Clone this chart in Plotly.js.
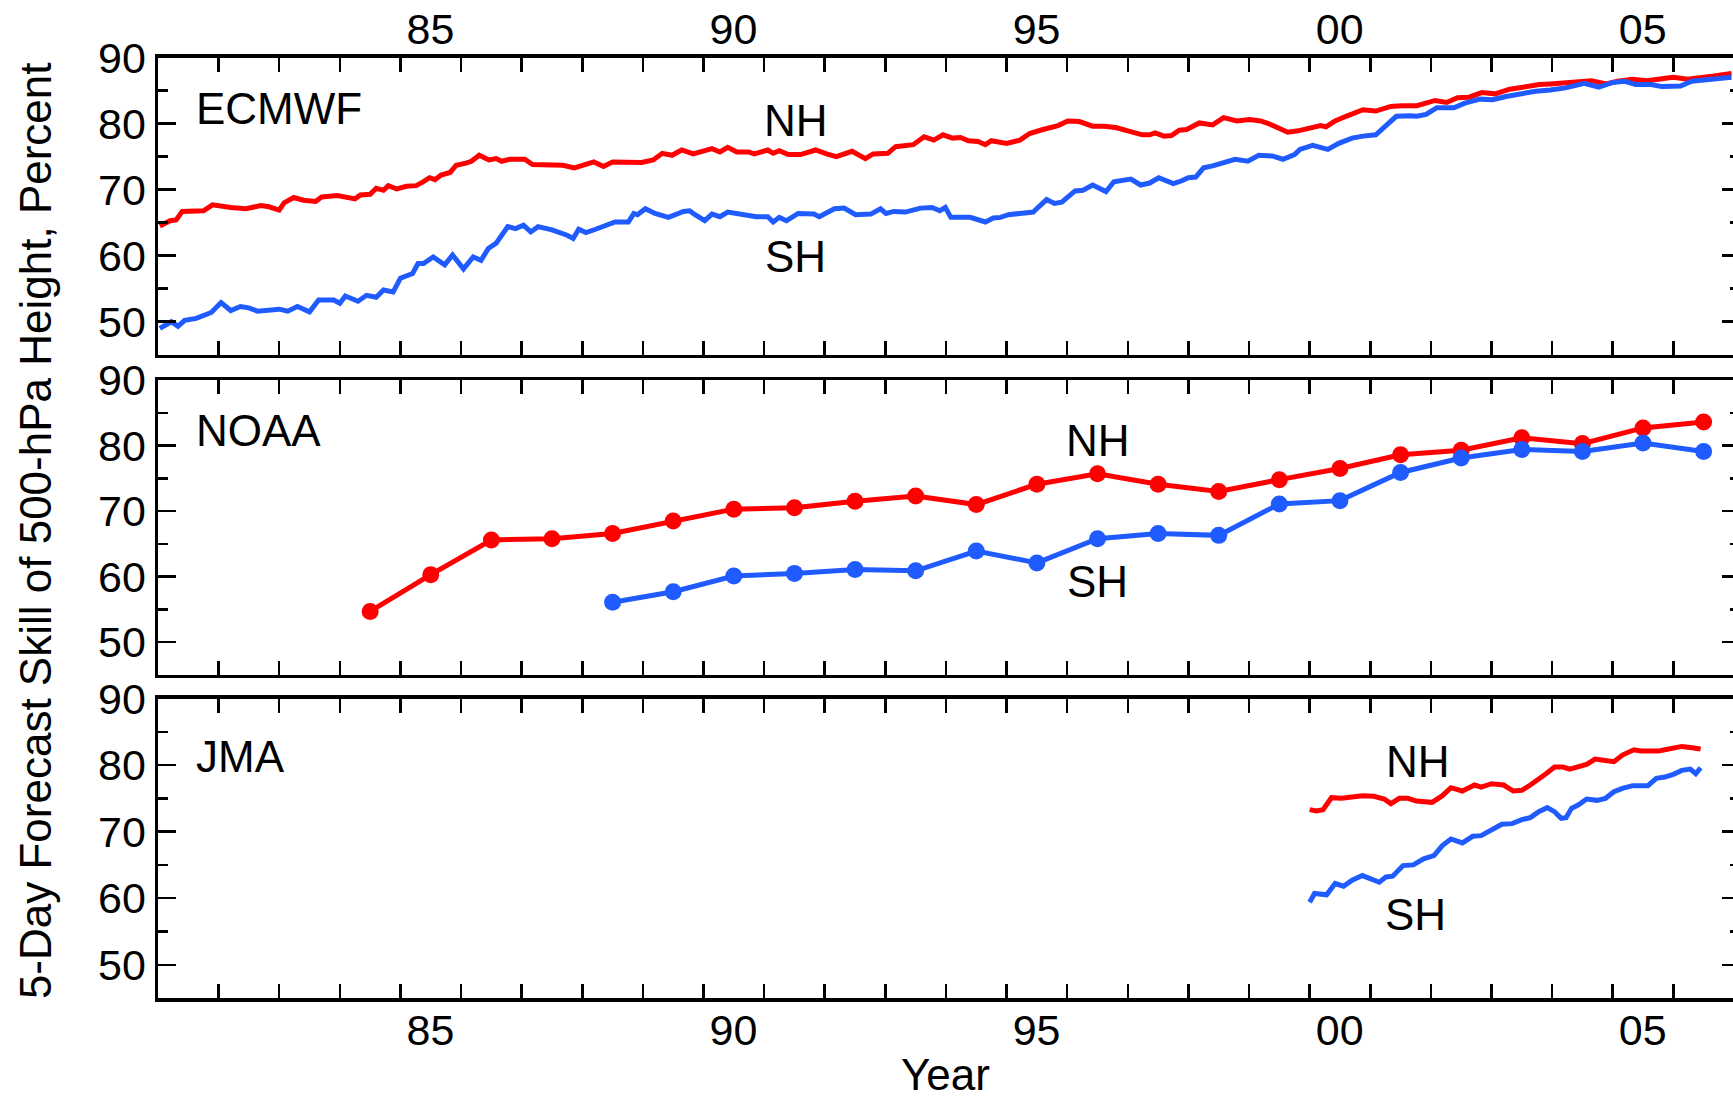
<!DOCTYPE html>
<html>
<head>
<meta charset="utf-8">
<script src="https://cdn.plot.ly/plotly-3.0.1.min.js"></script>
<style>
html, body { margin: 0; padding: 0; overflow: hidden; background: #fff; }
#chart { width: 1740px; height: 1100px; }
</style>
</head>
<body>
<div id="chart"></div>
<script>
// ---------------- DATA ----------------
// ECMWF running skill (time in fractional years)
const ecmwfNHYear = [1981.03,1981.2,1981.3,1981.4,1981.75,1981.9,1982.2,1982.45,1982.7,1982.83,1983.0,1983.08,1983.24,1983.4,1983.6,1983.7,1983.96,1984.25,1984.34,1984.5,1984.6,1984.72,1984.8,1984.94,1985.1,1985.26,1985.38,1985.48,1985.57,1985.67,1985.82,1985.92,1986.08,1986.17,1986.3,1986.46,1986.58,1986.67,1986.8,1987.05,1987.18,1987.43,1987.68,1987.87,1988.06,1988.19,1988.35,1988.5,1988.98,1989.17,1989.32,1989.48,1989.64,1989.83,1990.14,1990.27,1990.4,1990.55,1990.74,1990.84,1991.06,1991.15,1991.25,1991.4,1991.6,1991.72,1991.85,1992.03,1992.19,1992.45,1992.67,1992.8,1993.04,1993.17,1993.46,1993.64,1993.8,1993.95,1994.11,1994.24,1994.37,1994.53,1994.65,1994.75,1995.0,1995.22,1995.38,1995.6,1995.85,1996.01,1996.2,1996.42,1996.61,1996.8,1997.05,1997.24,1997.36,1997.45,1997.6,1997.72,1997.85,1997.97,1998.18,1998.4,1998.58,1998.8,1999.01,1999.19,1999.32,1999.47,1999.64,1999.81,1999.99,2000.18,2000.27,2000.42,2000.6,2000.79,2000.88,2001.09,2001.34,2001.52,2001.77,2002.07,2002.26,2002.44,2002.63,2002.84,2003.06,2003.3,2003.55,2003.79,2003.97,2004.16,2004.4,2004.65,2004.89,2005.08,2005.32,2005.57,2005.81,2006.0,2006.24,2006.43,2006.67,2006.96];
const ecmwfNHSkill = [64.5,65.3,65.4,66.7,66.8,67.7,67.3,67.1,67.6,67.4,66.9,68.0,68.8,68.4,68.2,68.9,69.1,68.6,69.2,69.3,70.2,69.9,70.6,70.1,70.5,70.6,71.2,71.8,71.5,72.2,72.6,73.7,74.0,74.3,75.2,74.5,74.7,74.3,74.6,74.6,73.8,73.8,73.7,73.3,73.8,74.2,73.5,74.2,74.1,74.5,75.5,75.2,76.0,75.4,76.2,75.7,76.4,75.7,75.7,75.4,76.0,75.5,75.9,75.3,75.3,75.7,76.0,75.4,75.0,75.8,74.7,75.4,75.5,76.5,76.8,78.0,77.5,78.3,77.8,77.9,77.4,77.3,76.8,77.4,77.0,77.5,78.5,79.1,79.7,80.4,80.3,79.6,79.6,79.4,78.8,78.3,78.3,78.6,78.1,78.2,79.0,79.1,80.1,79.8,80.9,80.4,80.6,80.4,80.0,79.3,78.7,78.9,79.2,79.7,79.5,80.4,81.1,81.9,82.1,81.9,82.6,82.7,82.7,83.5,83.2,83.9,84.0,84.7,84.5,85.2,85.6,85.9,86.0,86.1,86.2,86.5,86.0,86.4,86.7,86.5,86.8,87.0,86.7,87.0,87.2,87.6];

const ecmwfSHYear = [1981.03,1981.22,1981.33,1981.44,1981.63,1981.88,1982.04,1982.2,1982.36,1982.5,1982.64,1982.83,1983.0,1983.14,1983.3,1983.5,1983.65,1983.9,1984.0,1984.09,1984.3,1984.44,1984.6,1984.72,1984.88,1985.0,1985.2,1985.29,1985.38,1985.54,1985.73,1985.86,1986.04,1986.2,1986.33,1986.45,1986.58,1986.77,1986.9,1987.03,1987.15,1987.27,1987.5,1987.75,1987.85,1987.94,1988.06,1988.22,1988.38,1988.54,1988.76,1988.85,1988.91,1989.04,1989.2,1989.42,1989.67,1989.77,1989.86,1990.02,1990.14,1990.27,1990.4,1990.62,1990.87,1991.06,1991.15,1991.25,1991.37,1991.56,1991.82,1991.91,1992.16,1992.32,1992.51,1992.76,1992.92,1993.01,1993.14,1993.33,1993.58,1993.77,1993.9,1993.99,1994.08,1994.27,1994.4,1994.65,1994.78,1994.9,1995.03,1995.22,1995.44,1995.53,1995.66,1995.79,1995.91,1996.13,1996.26,1996.42,1996.64,1996.77,1997.05,1997.21,1997.36,1997.51,1997.6,1997.75,1997.88,1998.0,1998.12,1998.25,1998.4,1998.58,1998.77,1998.98,1999.16,1999.38,1999.56,1999.75,1999.84,2000.05,2000.3,2000.48,2000.7,2000.88,2001.09,2001.25,2001.43,2001.65,2001.77,2001.92,2002.1,2002.38,2002.56,2002.81,2003.02,2003.24,2003.42,2003.73,2003.97,2004.22,2004.53,2004.77,2004.99,2005.2,2005.38,2005.63,2005.81,2006.12,2006.3,2006.55,2006.79,2006.96];
const ecmwfSHSkill = [49.0,50.0,49.3,50.2,50.5,51.4,52.9,51.7,52.3,52.1,51.6,51.7,51.9,51.6,52.3,51.5,53.3,53.3,52.8,53.9,53.1,54.0,53.7,54.8,54.5,56.6,57.3,58.8,58.8,59.8,58.6,60.1,58.0,59.8,59.3,61.1,61.9,64.4,64.1,64.6,63.6,64.4,63.9,63.1,62.6,64.0,63.5,64.0,64.6,65.1,65.1,66.4,66.2,67.1,66.4,65.8,66.7,66.8,66.2,65.3,66.3,65.9,66.6,66.2,65.9,65.9,65.1,65.8,65.3,66.4,66.3,65.9,67.1,67.2,66.2,66.3,67.1,66.4,66.7,66.6,67.2,67.3,66.8,67.3,65.8,65.8,65.8,65.1,65.7,65.8,66.2,66.4,66.6,67.4,68.5,67.9,68.1,69.8,69.9,70.7,69.7,71.2,71.6,70.7,71.0,71.8,71.5,70.9,71.3,71.8,71.9,73.3,73.6,74.1,74.6,74.3,75.2,75.1,74.6,75.3,76.1,76.7,76.1,77.0,77.8,78.1,78.3,79.6,81.1,81.2,81.1,81.4,82.4,82.4,83.1,83.7,83.6,84.1,84.4,84.9,85.1,85.4,86.1,85.5,86.2,86.4,85.9,85.9,85.6,85.7,86.4,86.6,86.7,87.0];

// NOAA annual means (plotted at mid-year)
const noaaNHYear  = [1984,1985,1986,1987,1988,1989,1990,1991,1992,1993,1994,1995,1996,1997,1998,1999,2000,2001,2002,2003,2004,2005,2006];
const noaaNHSkill = [54.7,60.3,65.6,65.8,66.6,68.5,70.3,70.5,71.5,72.3,71.0,74.1,75.7,74.1,73.0,74.8,76.5,78.6,79.3,81.2,80.3,82.7,83.6];
const noaaSHYear  = [1988,1989,1990,1991,1992,1993,1994,1995,1996,1997,1998,1999,2000,2001,2002,2003,2004,2005,2006];
const noaaSHSkill = [56.1,57.7,60.1,60.5,61.1,60.9,63.9,62.1,65.8,66.6,66.3,71.1,71.6,75.9,78.1,79.4,79.1,80.4,79.1];

// JMA running skill
const jmaNHYear  = [2000.0,2000.11,2000.22,2000.36,2000.53,2000.67,2000.87,2001.06,2001.23,2001.34,2001.48,2001.62,2001.76,2002.02,2002.19,2002.33,2002.52,2002.72,2002.83,2003.0,2003.2,2003.36,2003.5,2003.64,2003.78,2003.9,2004.04,2004.18,2004.29,2004.46,2004.57,2004.71,2004.88,2005.02,2005.16,2005.35,2005.47,2005.61,2005.75,2005.86,2006.0,2006.14,2006.31,2006.45];
const jmaNHSkill = [73.3,73.1,73.3,75.1,75.0,75.1,75.4,75.3,74.9,74.2,75.0,75.0,74.6,74.4,75.4,76.6,76.1,77.0,76.7,77.2,77.0,76.1,76.2,77.0,77.8,78.7,79.7,79.7,79.4,79.9,80.1,80.9,80.6,80.5,81.5,82.3,82.1,82.1,82.1,82.3,82.6,82.8,82.6,82.4];
const jmaSHYear  = [2000.0,2000.08,2000.28,2000.42,2000.56,2000.7,2000.87,2001.01,2001.15,2001.26,2001.37,2001.54,2001.71,2001.88,2002.05,2002.19,2002.33,2002.52,2002.69,2002.83,2003.0,2003.17,2003.34,2003.5,2003.64,2003.78,2003.92,2004.04,2004.15,2004.23,2004.32,2004.43,2004.57,2004.74,2004.88,2005.02,2005.16,2005.33,2005.58,2005.72,2005.86,2006.0,2006.14,2006.28,2006.37,2006.45];
const jmaSHSkill = [59.4,60.7,60.5,62.2,61.8,62.7,63.4,62.8,62.4,63.2,63.3,64.9,65.0,65.9,66.4,67.9,68.9,68.3,69.3,69.4,70.2,71.1,71.2,71.8,72.1,73.0,73.6,73.0,72.0,72.1,73.5,74.0,74.9,74.7,75.0,76.0,76.5,76.9,76.9,78.0,78.2,78.6,79.2,79.4,78.7,79.6];

// Axis ticks
const yearTicks = [];
for (let y = 1981; y <= 2007; y++) yearTicks.push(y);
const yearTickText = yearTicks.map(y => (y % 5 === 0) ? String(y % 100).padStart(2, '0') : '');
const skillTicks = [50, 60, 70, 80, 90];
const skillMinorTicks = [55, 65, 75, 85];

const panelNames = ['ECMWF', 'NOAA', 'JMA'];

// ---------------- STYLE ----------------
const RED = '#ff0000';
const BLUE = '#1f5bff';
const FONT = 'Liberation Sans, Arial, Helvetica, sans-serif';

function xAxis(anchor, side, labels, standoff) {
  return {
    anchor: anchor, side: side, range: [1981, 2007.1],
    tickmode: 'array', tickvals: yearTicks, ticktext: yearTickText,
    showticklabels: labels, ticklabelshift: 30, ticklabelstandoff: standoff,
    ticks: 'inside', ticklen: 14, tickwidth: 2.5, tickcolor: '#000',
    showline: true, linewidth: 3.5, linecolor: '#000', mirror: 'ticks',
    showgrid: false, zeroline: false,
    tickfont: {family: FONT, size: 43, color: '#000'}
  };
}
function yAxis(domain, anchor) {
  return {
    domain: domain, anchor: anchor, range: [45, 90],
    tickmode: 'array', tickvals: skillTicks, ticktext: skillTicks.map(String),
    ticks: 'inside', ticklen: 18, tickwidth: 2.5, tickcolor: '#000',
    minor: {tickmode: 'array', tickvals: skillMinorTicks, ticks: 'inside', ticklen: 10, tickwidth: 2.5, tickcolor: '#000', showgrid: false},
    showline: true, linewidth: 3.5, linecolor: '#000', mirror: 'ticks',
    showgrid: false, zeroline: false,
    tickfont: {family: FONT, size: 43, color: '#000'}
  };
}

const lineTrace = (x, y, color, xa, ya) => ({
  type: 'scatter', mode: 'lines', x: x, y: y, xaxis: xa, yaxis: ya,
  line: {color: color, width: 5}, hoverinfo: 'skip'
});
const markerTrace = (years, y, color, xa, ya) => ({
  type: 'scatter', mode: 'lines+markers', x: years.map(v => v + 0.5), y: y, xaxis: xa, yaxis: ya,
  line: {color: color, width: 5}, marker: {color: color, size: 17}, hoverinfo: 'skip'
});

const data = [
  lineTrace(ecmwfNHYear, ecmwfNHSkill, RED, 'x', 'y'),
  lineTrace(ecmwfSHYear, ecmwfSHSkill, BLUE, 'x', 'y'),
  markerTrace(noaaNHYear, noaaNHSkill, RED, 'x2', 'y2'),
  markerTrace(noaaSHYear, noaaSHSkill, BLUE, 'x2', 'y2'),
  lineTrace(jmaNHYear, jmaNHSkill, RED, 'x3', 'y3'),
  lineTrace(jmaSHYear, jmaSHSkill, BLUE, 'x3', 'y3')
];

const txt = (text, xref, yref, x, y, xanchor) => ({
  text: text, xref: xref, yref: yref, x: x, y: y, xanchor: xanchor || 'center', yanchor: 'middle',
  showarrow: false, font: {family: FONT, size: 44, color: '#000'}
});

const annotations = [
  txt(panelNames[0], 'x', 'y', 1981.6, 82.3, 'left'),
  txt('NH', 'x', 'y', 1991.52, 80.4),
  txt('SH', 'x', 'y', 1991.52, 59.9),
  txt(panelNames[1], 'x2', 'y2', 1981.6, 82.3, 'left'),
  txt('NH', 'x2', 'y2', 1996.5, 80.8),
  txt('SH', 'x2', 'y2', 1996.5, 59.2),
  txt(panelNames[2], 'x3', 'y3', 1981.6, 81.3, 'left'),
  txt('NH', 'x3', 'y3', 2001.78, 80.5),
  txt('SH', 'x3', 'y3', 2001.74, 57.5),
  Object.assign(txt('5-Day Forecast Skill of 500-hPa Height, Percent', 'paper', 'paper', -0.0778, 0.518), {textangle: -90}),
  txt('Year', 'paper', 'paper', 0.4975, 0.0235)
];

const layout = {
  width: 1740, height: 1100,
  margin: {l: 158, r: 0, t: 0, b: 0},
  paper_bgcolor: '#fff', plot_bgcolor: '#fff',
  showlegend: false,
  font: {family: FONT, size: 43, color: '#000'},
  xaxis: xAxis('y', 'top', true, -7),
  xaxis2: xAxis('y2', 'bottom', false, 0),
  xaxis3: xAxis('y3', 'bottom', true, -8),
  yaxis: yAxis([0.6775, 0.9477], 'x'),
  yaxis2: yAxis([0.3864, 0.6545], 'x2'),
  yaxis3: yAxis([0.0927, 0.365], 'x3'),
  annotations: annotations
};

Plotly.newPlot('chart', data, layout, {staticPlot: true, displayModeBar: false});
</script>
</body>
</html>
